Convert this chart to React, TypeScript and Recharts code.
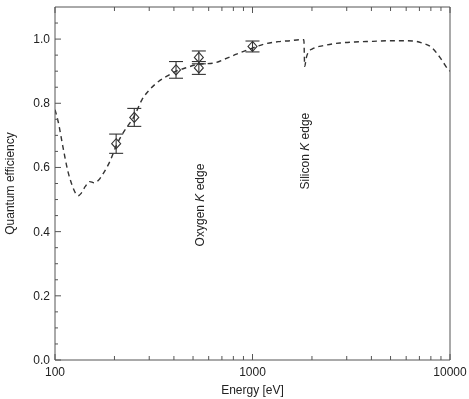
import {
  ComposedChart,
  Line,
  Scatter,
  ErrorBar,
  XAxis,
  YAxis,
  ReferenceDot
} from 'recharts'

// modelled quantum efficiency curve (dashed)
const curveEnergy = [
  100, 104, 110, 116, 122, 127, 131, 136, 142, 150, 158, 166, 175, 190, 205, 225, 252, 275, 303, 333,
  375, 410, 464, 535, 633, 725, 830, 1000, 1157, 1350, 1550, 1750, 1820, 1838, 1870, 1920, 2000, 2300,
  2775, 3300, 4070, 5000, 6000, 6700, 7190, 8070, 8890, 9300, 9770, 10000
]
const curveQE = [
  0.78, 0.74, 0.66, 0.59, 0.545, 0.52, 0.512, 0.52, 0.54, 0.556, 0.552, 0.56, 0.58, 0.62, 0.67, 0.715,
  0.76, 0.81, 0.844, 0.867, 0.887, 0.9, 0.911, 0.922, 0.925, 0.938, 0.953, 0.972, 0.985, 0.992, 0.995,
  0.998, 0.998, 0.915, 0.94, 0.96, 0.969, 0.98, 0.988, 0.991, 0.993, 0.995, 0.995, 0.993, 0.988, 0.974,
  0.943, 0.925, 0.906, 0.9
]

// measured points with error bars
const pointEnergy = [204, 252, 410, 535, 535, 1000]
const pointQE = [0.674, 0.756, 0.904, 0.943, 0.91, 0.977]
const pointErr = [0.03, 0.028, 0.026, 0.02, 0.02, 0.017]

const xTicks = [
  100, 200, 300, 400, 500, 600, 700, 800, 900, 1000, 2000, 3000, 4000, 5000, 6000, 7000, 8000, 9000, 10000
]
const xLabels = [100, 1000, 10000]
const yTicks = [
  0, 0.05, 0.1, 0.15, 0.2, 0.25, 0.3, 0.35, 0.4, 0.45, 0.5, 0.55, 0.6, 0.65, 0.7, 0.75, 0.8, 0.85, 0.9,
  0.95, 1.0, 1.05
]
const yLabels = [0, 0.2, 0.4, 0.6, 0.8, 1.0]

const edgeNames = ['Oxygen', 'Silicon']
const edgeEnergy = [543, 1839]
const edgeLabelQE = [0.483, 0.651]

const curve = curveEnergy.map((e, i) => ({ energy: e, qe: curveQE[i] }))
const points = pointEnergy.map((e, i) => ({ energy: e, qe: pointQE[i], err: pointErr[i] }))

const AXIS = '#555'
const TEXT = '#222'
const FONT = '"Liberation Sans", Arial, sans-serif'
const FS = 12

const isLabel = (list: number[], v: number) => list.some((l) => Math.abs(l - v) < 1e-6)

function BottomTick({ x, y, payload }: any) {
  const major = isLabel(xLabels, payload.value)
  return (
    <g>
      <line x1={x} y1={y} x2={x} y2={y - (major ? 6 : 4)} stroke={AXIS} />
      {major && (
        <text x={x} y={y + 16} textAnchor="middle" fontSize={FS} fill={TEXT} fontFamily={FONT}>
          {payload.value}
        </text>
      )}
    </g>
  )
}

function TopTick({ x, y, payload }: any) {
  const major = isLabel(xLabels, payload.value)
  return <line x1={x} y1={y} x2={x} y2={y + (major ? 6 : 4)} stroke={AXIS} />
}

function LeftTick({ x, y, payload }: any) {
  const major = isLabel(yLabels, payload.value)
  return (
    <g>
      <line x1={x} y1={y} x2={x + (major ? 6 : 3)} y2={y} stroke={AXIS} />
      {major && (
        <text x={x - 5} y={y + 4} textAnchor="end" fontSize={FS} fill={TEXT} fontFamily={FONT}>
          {payload.value.toFixed(1)}
        </text>
      )}
    </g>
  )
}

function Diamond({ cx, cy }: any) {
  return (
    <path
      d={`M${cx},${cy - 5} L${cx + 4.5},${cy} L${cx},${cy + 5} L${cx - 4.5},${cy} Z`}
      fill="none"
      stroke="#333"
      strokeWidth={1.1}
    />
  )
}

function edgeLabel(name: string) {
  return (props: any) => {
    const { x, y } = props.viewBox
    return (
      <text
        transform={`translate(${x + 4},${y}) rotate(-90)`}
        textAnchor="middle"
        fontSize={FS}
        fill={TEXT}
        fontFamily={FONT}
      >
        {name} <tspan fontStyle="italic">K</tspan> edge
      </text>
    )
  }
}

export default function App() {
  return (
    <div style={{ position: 'fixed', left: 0, top: 0 }}>
      <ComposedChart width={469} height={399} margin={{ top: 6, right: 18, left: 0, bottom: 0 }}>
        <XAxis
          dataKey="energy"
          type="number"
          scale="log"
          domain={[100, 10000]}
          ticks={xTicks}
          interval={0}
          allowDataOverflow
          height={39}
          stroke={AXIS}
          tickSize={0}
          tickMargin={0}
          tick={BottomTick}
          label={(props: any) => (
            <text
              x={props.viewBox.x + props.viewBox.width / 2}
              y={props.viewBox.y + 34}
              textAnchor="middle"
              fontSize={FS}
              fill={TEXT}
              fontFamily={FONT}
            >
              Energy [eV]
            </text>
          )}
        />
        <XAxis
          xAxisId="top"
          orientation="top"
          dataKey="energy"
          type="number"
          scale="log"
          domain={[100, 10000]}
          ticks={xTicks}
          interval={0}
          allowDataOverflow
          height={1}
          stroke={AXIS}
          tickSize={0}
          tickMargin={0}
          tick={TopTick}
        />
        <YAxis
          type="number"
          domain={[0, 1.1]}
          ticks={yTicks}
          interval={0}
          allowDataOverflow
          width={55}
          stroke={AXIS}
          tickSize={0}
          tickMargin={0}
          tick={LeftTick}
          label={(props: any) => (
            <text
              transform={`translate(${props.viewBox.x + 14},${props.viewBox.y + props.viewBox.height / 2}) rotate(-90)`}
              textAnchor="middle"
              fontSize={FS}
              fill={TEXT}
              fontFamily={FONT}
            >
              Quantum efficiency
            </text>
          )}
        />
        <YAxis
          yAxisId="right"
          orientation="right"
          type="number"
          domain={[0, 1.1]}
          allowDataOverflow
          width={1}
          stroke={AXIS}
          tick={false}
          tickLine={false}
        />
        {/* invisible copy so the top and right frame axes are drawn */}
        <Line
          data={curve}
          dataKey="qe"
          xAxisId="top"
          yAxisId="right"
          stroke="none"
          dot={false}
          activeDot={false}
          isAnimationActive={false}
        />
        <Line
          data={curve}
          dataKey="qe"
          type="monotone"
          stroke="#333"
          strokeWidth={1.4}
          strokeDasharray="5 4"
          dot={false}
          activeDot={false}
          isAnimationActive={false}
        />
        <Scatter data={points} dataKey="qe" shape={Diamond} isAnimationActive={false}>
          <ErrorBar dataKey="err" direction="y" width={7} stroke="#333" strokeWidth={1.1} />
        </Scatter>
        {edgeNames.map((name, i) => (
          <ReferenceDot
            key={name}
            x={edgeEnergy[i]}
            y={edgeLabelQE[i]}
            r={0}
            fill="none"
            stroke="none"
            label={edgeLabel(name)}
          />
        ))}
      </ComposedChart>
    </div>
  )
}
